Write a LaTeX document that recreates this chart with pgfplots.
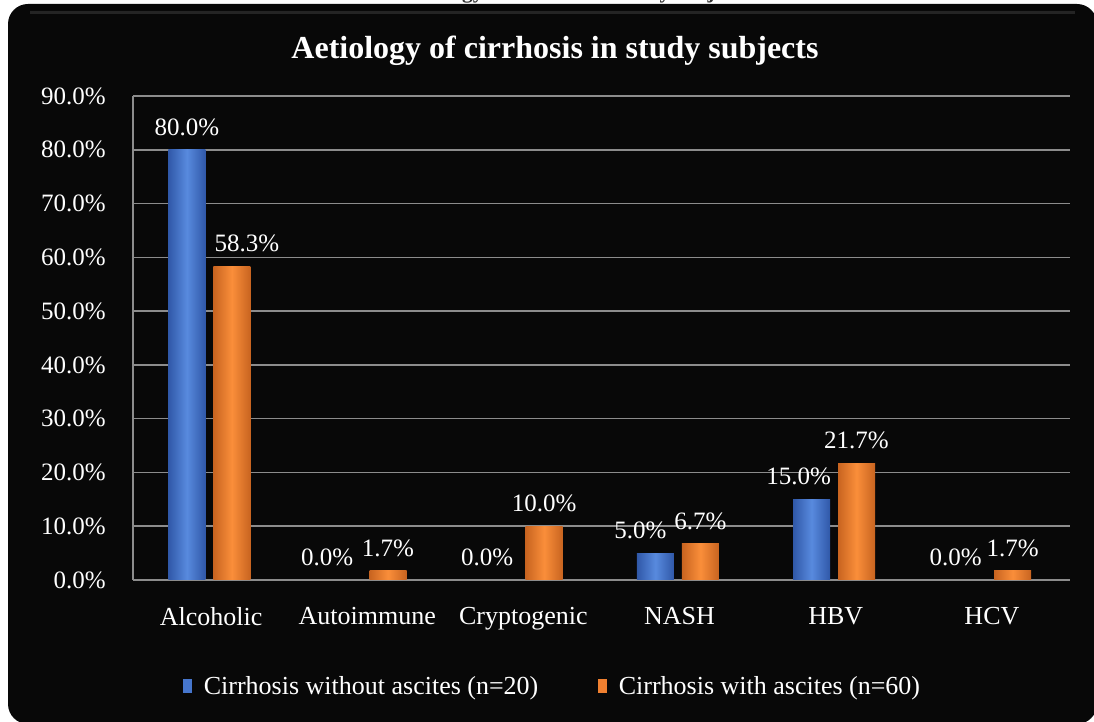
\documentclass[border=0pt]{standalone}
\usepackage{pgfplots}
\pgfplotsset{compat=1.18}
\usepackage{fontspec}
\setmainfont{Liberation Serif}
\definecolor{bblue}{RGB}{70,118,205}
\definecolor{bbluel}{RGB}{88,138,222}
\definecolor{bblued}{RGB}{48,88,168}
\definecolor{oorange}{RGB}{240,128,48}
\definecolor{oorangel}{RGB}{250,142,58}
\definecolor{ooranged}{RGB}{200,100,32}
\definecolor{gridgray}{RGB}{140,140,140}
\definecolor{bg}{RGB}{8,8,8}
\newcommand\fs{\fontsize{25}{30}\selectfont}
\newcommand\fsx{\fontsize{26}{31}\selectfont}
\newcommand\fsl{\fontsize{26}{31}\selectfont}
\pgfplotsset{
  bluebar/.style={draw=none, bar shift=-0.155, left color=bblued, right color=bblued, middle color=bbluel, forget plot,
    every node near coord/.append style={xshift=#1}},
  orangebar/.style={draw=none, bar shift=0.133, left color=ooranged, right color=ooranged, middle color=oorangel, forget plot,
    every node near coord/.append style={xshift=#1}},
}
\begin{document}
\begin{tikzpicture}
\clip (0pt,0pt) rectangle (1094pt,722pt);
\fill[white] (0pt,0pt) rectangle (1094pt,722pt);
\node[anchor=base, font=\fontsize{21.4}{25}\selectfont\bfseries, text=black!80] at (573pt,723pt) {Aetiology of cirrhosis in study subjects};
\fill[bg, rounded corners=20pt] (8pt,-2pt) rectangle (1097pt,718pt);
\draw[line width=3pt, black!75!white, opacity=0.5] (30pt,709pt) -- (1075pt,709pt);
\node[anchor=base, font=\fontsize{32}{38}\selectfont\bfseries, text=white] at (555pt,663pt) {Aetiology of cirrhosis in study subjects};
\begin{axis}[
  at={(133pt,142pt)}, anchor=south west,
  scale only axis, width=937pt, height=484pt,
  ymin=0, ymax=90, xmin=-0.5, xmax=5.5,
  ybar, bar width=0.237,
  ytick={0,10,...,90},
  xtick={0,...,5},
  xticklabels={Alcoholic,Autoimmune,Cryptogenic,NASH,HBV,HCV},
  /pgf/number format/assume math mode=true,
  yticklabel={\pgfmathprintnumber[fixed,fixed zerofill,precision=1]{\tick}\%},
  yticklabel style={font=\fs, text=white, anchor=east, inner sep=0pt, xshift=-27pt},
  xticklabel style={font=\fsx, text=white, anchor=north, inner sep=0pt, yshift=-27pt},
  major tick length=0pt,
  axis x line*=bottom, axis y line*=left,
  axis line style={gridgray, line width=1.5pt, -},
  ymajorgrids, grid style={gridgray, line width=1.5pt},
  nodes near coords={\pgfmathprintnumber[fixed,fixed zerofill,precision=1]{\pgfplotspointmeta}\%},
  point meta=y,
  every node near coord/.append style={font=\fs, text=white, anchor=south, inner sep=0pt, yshift=14pt},
  legend style={at={(0.448,-0.219)}, anchor=center, draw=none, fill=none, text=white, font=\fsl, legend columns=2,
    /tikz/every odd column/.append style={column sep=10pt},
    /tikz/every even column/.append style={column sep=58pt}},
]
% Cirrhosis without ascites (n=20)
\addplot[bluebar=0pt]   coordinates {(0,80.0)};
\addplot[bluebar=-16pt] coordinates {(1,0.0)};
\addplot[bluebar=-12pt] coordinates {(2,0.0)};
\addplot[bluebar=-15pt] coordinates {(3,5.0)};
\addplot[bluebar=-13pt] coordinates {(4,15.0)};
\addplot[bluebar=-12pt] coordinates {(5,0.0)};
% Cirrhosis with ascites (n=60)
\addplot[orangebar=15pt] coordinates {(0,58.3)};
\addplot[orangebar=0pt]  coordinates {(1,1.7)};
\addplot[orangebar=0pt]  coordinates {(2,10.0)};
\addplot[orangebar=0pt]  coordinates {(3,6.7)};
\addplot[orangebar=0pt]  coordinates {(4,21.7)};
\addplot[orangebar=0pt]  coordinates {(5,1.7)};
\addlegendimage{legend image code/.code={\fill[bblue] (0pt,-6pt) rectangle (8pt,7pt);}}
\addlegendentry{Cirrhosis without ascites (n=20)}
\addlegendimage{legend image code/.code={\fill[oorange] (0pt,-6pt) rectangle (8pt,7pt);}}
\addlegendentry{Cirrhosis with ascites (n=60)}
\end{axis}
\end{tikzpicture}
\end{document}
